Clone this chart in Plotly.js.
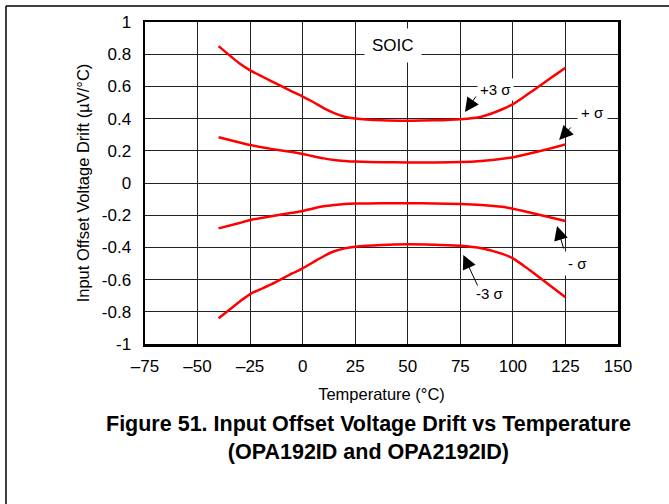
<!DOCTYPE html>
<html>
<head>
<meta charset="utf-8">
<script src="https://cdn.plot.ly/plotly-3.0.1.min.js"></script>
<style>html,body{margin:0;padding:0;background:#fff;}#chart{width:669px;height:504px;}</style>
</head>
<body>
<div id="chart"></div>
<script>
// Temperatures (°C)
var temps = [-40, -30, -25, -15, -5, 0, 5, 10, 15, 20, 25, 37.5, 50, 62.5, 75, 85, 95, 100, 105, 110, 115, 120, 125];
// Drift values (µV/°C)
var plus3Sigma  = [0.850, 0.742, 0.700, 0.633, 0.568, 0.537, 0.503, 0.465, 0.434, 0.412, 0.401, 0.390, 0.387, 0.389, 0.396, 0.412, 0.458, 0.490, 0.533, 0.578, 0.624, 0.670, 0.716];
var plusSigma   = [0.284, 0.252, 0.236, 0.212, 0.192, 0.180, 0.166, 0.153, 0.143, 0.137, 0.133, 0.129, 0.128, 0.128, 0.130, 0.137, 0.150, 0.160, 0.174, 0.189, 0.205, 0.222, 0.240];
var minusSigma  = [-0.282, -0.248, -0.230, -0.206, -0.185, -0.174, -0.158, -0.145, -0.137, -0.131, -0.128, -0.126, -0.126, -0.127, -0.130, -0.136, -0.148, -0.160, -0.174, -0.190, -0.205, -0.220, -0.236];
var minus3Sigma = [-0.840, -0.737, -0.690, -0.630, -0.562, -0.530, -0.492, -0.455, -0.424, -0.406, -0.396, -0.385, -0.381, -0.384, -0.390, -0.405, -0.440, -0.468, -0.512, -0.560, -0.610, -0.660, -0.710];

var xTickVals = [-75, -50, -25, 0, 25, 50, 75, 100, 125, 150];
var xTickText = ['\u201375', '\u201350', '\u201325', '0', '25', '50', '75', '100', '125', '150'];
var yTickVals = [-1, -0.8, -0.6, -0.4, -0.2, 0, 0.2, 0.4, 0.6, 0.8, 1];
var yTickText = ['-1', '-0.8', '-0.6', '-0.4', '-0.2', '0', '0.2', '0.4', '0.6', '0.8', '1'];

var seriesList = [plus3Sigma, plusSigma, minusSigma, minus3Sigma];
var traces = seriesList.map(function (s) {
  return {
    x: temps, y: s, type: 'scatter', mode: 'lines',
    line: {color: '#ff0000', width: 2.5, shape: 'spline', smoothing: 0.6},
    hoverinfo: 'skip', showlegend: false
  };
});

var F = 'Liberation Sans, Arial, sans-serif';
function label(text, x, y, pad) {
  return {x: x, y: y, xref: 'x', yref: 'y', text: text, showarrow: false,
          bgcolor: '#ffffff', borderpad: pad, font: {family: F, size: 15, color: '#000'}};
}
function arrow(x, y, ax, ay) {
  return {x: x, y: y, xref: 'x', yref: 'y', text: '', showarrow: true,
          ax: ax, ay: ay, arrowhead: 2, arrowsize: 2.8, arrowwidth: 1, arrowcolor: '#000', standoff: 0};
}

var annotations = [
  {x: 43, y: 0.851, xref: 'x', yref: 'y', text: 'SOIC', showarrow: false, bgcolor: '#fff',
   borderpad: 7, font: {family: F, size: 17, color: '#000'}},
  label('+3 \u03c3', 91.5, 0.578, 2),
  label('+ \u03c3', 138.1, 0.435, 3),
  label('- \u03c3', 130.5, -0.503, 3),
  label('-3 \u03c3', 89.1, -0.689, 3),
  arrow(77.2, 0.441, 12, -17),
  arrow(122.0, 0.267, 13, -14),
  arrow(121.0, -0.267, 7, 24),
  arrow(76.4, -0.447, 15, 32),
  {xref: 'paper', yref: 'paper', x: 0.473, y: -0.205, text: '<b>Figure 51. Input Offset Voltage Drift vs Temperature<br>(OPA192ID and OPA2192ID)</b>',
   showarrow: false, xanchor: 'center', yanchor: 'top', font: {family: F, size: 21.5, color: '#000'}}
];

var shapes = [
  {type: 'line', xref: 'paper', yref: 'paper', x0: -0.2939, x1: -0.2939, y0: 1.0497, y1: -0.6, line: {color: '#000', width: 1.5}},
  {type: 'line', xref: 'paper', yref: 'paper', x0: -0.2939, x1: 1.2, y0: 1.0497, y1: 1.0497, line: {color: '#000', width: 1.5}}
];

var layout = {
  width: 669, height: 504,
  margin: {l: 145, r: 51, t: 22, b: 160},
  paper_bgcolor: '#fff', plot_bgcolor: '#fff',
  font: {family: F, size: 17, color: '#000'},
  xaxis: {
    range: [-75, 150], tickvals: xTickVals, ticktext: xTickText,
    showgrid: true, gridcolor: '#222', gridwidth: 1, zeroline: false,
    showline: true, linecolor: '#000', linewidth: 2.5, mirror: true, ticks: '',
    ticklabelstandoff: 5,
    tickfont: {family: F, size: 17, color: '#000'},
    title: {text: 'Temperature (\u00b0C)', font: {family: F, size: 16.5, color: '#000'}, standoff: 14}
  },
  yaxis: {
    range: [-1, 1], tickvals: yTickVals, ticktext: yTickText,
    showgrid: true, gridcolor: '#222', gridwidth: 1, zeroline: false,
    showline: true, linecolor: '#000', linewidth: 2.5, mirror: true, ticks: '',
    ticklabelstandoff: 8,
    tickfont: {family: F, size: 17, color: '#000'},
    title: {text: 'Input Offset Voltage Drift (\u00b5V/\u00b0C)', font: {family: F, size: 16.5, color: '#000'}, standoff: 8}
  },
  annotations: annotations,
  shapes: shapes
};

Plotly.newPlot('chart', traces, layout, {staticPlot: true, displayModeBar: false});
</script>
</body>
</html>
